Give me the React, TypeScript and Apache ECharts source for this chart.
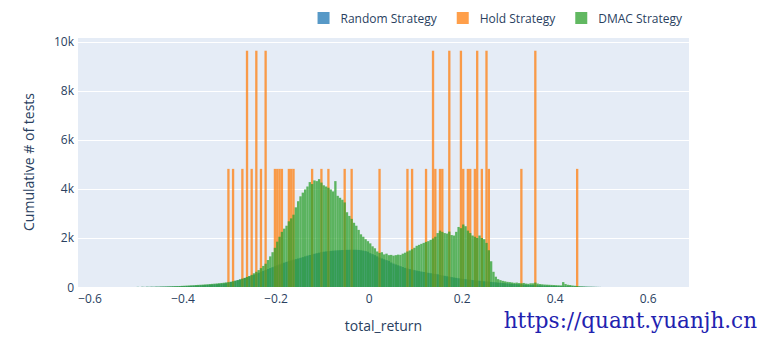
import React, { useEffect, useRef } from "react";
import * as echarts from "echarts";

// Histogram bins: start of first bin and bin width (total_return)
const BIN_START = -0.5;
const BIN_WIDTH = 0.005;

// Random Strategy counts per bin (200 bins from -0.5 to 0.5)
const randomCounts = [
  3, 0, 5, 2, 6, 4, 8, 6, 10, 9,
  12, 13, 15, 17, 19, 22, 24, 27, 30, 33,
  36, 40, 44, 48, 52, 57, 62, 67, 73, 79,
  86, 93, 100, 108, 116, 125, 134, 144, 155, 166,
  205, 228, 252, 278, 305, 335, 365, 398, 432, 466,
  500, 540, 578, 617, 656, 695, 734, 772, 810, 848,
  885, 922, 958, 992, 1025, 1055, 1085, 1112, 1138, 1163,
  1190, 1220, 1250, 1278, 1305, 1330, 1355, 1378, 1400, 1420,
  1440, 1452, 1463, 1473, 1482, 1490, 1497, 1503, 1508, 1512,
  1515, 1518, 1520, 1520, 1518, 1512, 1500, 1485, 1465, 1440,
  1380, 1340, 1300, 1250, 1200, 1165, 1130, 1095, 1065, 1000,
  955, 920, 885, 850, 815, 780, 755, 730, 708, 688,
  668, 648, 630, 612, 595, 578, 562, 547, 533, 520,
  490, 472, 455, 438, 421, 404, 388, 372, 357, 343,
  330, 318, 306, 295, 284, 273, 263, 253, 244, 235,
  226, 217, 208, 199, 190, 181, 172, 163, 155, 147,
  139, 131, 124, 117, 110, 104, 98, 92, 87, 82,
  77, 72, 68, 64, 60, 56, 52, 49, 46, 43,
  40, 37, 34, 31, 29, 27, 25, 23, 21, 19,
  17, 15, 13, 11, 9, 8, 6, 5, 3, 2,
];

// DMAC Strategy counts per bin (200 bins from -0.5 to 0.5)
const dmacCounts = [
  5, 0, 8, 3, 10, 6, 12, 9, 15, 14,
  18, 20, 22, 25, 28, 32, 35, 38, 42, 47,
  52, 58, 62, 68, 72, 80, 86, 92, 98, 106,
  112, 120, 128, 136, 145, 155, 165, 175, 188, 200,
  215, 235, 258, 282, 310, 340, 372, 410, 450, 495,
  560, 620, 690, 770, 860, 950, 1100, 1250, 1420, 1600,
  1850, 2050, 2250, 2380, 2500, 2680, 2800, 2950, 3250, 3500,
  3700, 3850, 3980, 4100, 4280, 4200, 4350, 4320, 4400, 4260,
  4150, 4100, 4050, 3980, 3900, 4320, 3720, 3640, 3560, 3450,
  3050, 2900, 2780, 2620, 2500, 2330, 2150, 2050, 1950, 1870,
  1780, 1660, 1580, 1450, 1390, 1420, 1330, 1360, 1300, 1310,
  1280, 1300, 1320, 1310, 1360, 1400, 1450, 1490, 1540, 1600,
  1680, 1720, 1760, 1800, 1840, 1870, 1920, 1980, 2050, 2200,
  2300, 2250, 2200, 2180, 2260, 2120, 2100, 2250, 2450, 2400,
  2550, 2480, 2300, 2200, 2100, 2050, 2000, 2100, 2000, 1950,
  1800, 1500, 1050, 620, 420, 320, 280, 250, 230, 210,
  200, 185, 170, 180, 160, 150, 165, 140, 130, 150,
  150, 180, 140, 120, 110, 100, 95, 90, 85, 80,
  75, 70, 65, 200, 120, 90, 80, 60, 50, 40,
  30, 25, 20, 15, 12, 10, 8, 5, 3, 2,
];

// Hold Strategy: bin starts and counts
const holdBins = [
  -0.305, -0.295, -0.275, -0.265, -0.255, -0.245, -0.235, -0.225,
  -0.205, -0.2, -0.195, -0.19, -0.175, -0.17, -0.165,
  -0.125, -0.105, -0.09, -0.055, -0.04,
  0.02, 0.08, 0.09, 0.12, 0.135, 0.14, 0.15, 0.155, 0.17,
  0.195, 0.2, 0.21, 0.215, 0.225, 0.23, 0.24, 0.25, 0.255,
  0.325, 0.355, 0.445,
];
const holdCounts = [
  4820, 4820, 4820, 9640, 4820, 9640, 4820, 9640,
  4820, 4820, 4820, 4820, 4820, 4820, 4820,
  4820, 4820, 4820, 4820, 4820,
  4820, 4820, 4820, 4820, 9640, 4820, 4820, 4820, 9640,
  9640, 4820, 4820, 4820, 4820, 9640, 4820, 9640, 4820,
  4820, 9640, 4820,
];

const xTicks = [-0.6, -0.4, -0.2, 0, 0.2, 0.4, 0.6];
const yTicks = [0, 2000, 4000, 6000, 8000, 10000];

const COLORS = {
  random: "#1f77b4",
  hold: "#ff7f0e",
  dmac: "#2ca02c",
};

const FONT = "'Open Sans', verdana, arial, sans-serif";
const TEXT_COLOR = "#2a3f5f";

function histSeries(name: string, color: string, data: number[][]) {
  return {
    name,
    type: "custom",
    clip: true,
    encode: { x: 0, y: 1 },
    itemStyle: { color, opacity: 0.75 },
    data,
    renderItem: (_params: any, api: any) => {
      const x0 = api.value(0);
      const v = api.value(1);
      const p0 = api.coord([x0, v]);
      const p1 = api.coord([x0 + BIN_WIDTH, 0]);
      return {
        type: "rect",
        shape: { x: p0[0], y: p0[1], width: p1[0] - p0[0], height: p1[1] - p0[1] },
        style: { fill: color, opacity: 0.75 },
      };
    },
  };
}

export default function App() {
  const ref = useRef<HTMLDivElement>(null);
  useEffect(() => {
    if (!ref.current) return;
    const chart = echarts.init(ref.current, undefined, { renderer: "svg" });
    const randomData = randomCounts.map((c, i) => [BIN_START + i * BIN_WIDTH, c]);
    const dmacData = dmacCounts.map((c, i) => [BIN_START + i * BIN_WIDTH, c]);
    const holdData = holdBins.map((b, i) => [b, holdCounts[i]]);
    const fmtX = (v: number) => {
      const s = Math.abs(v) < 1e-9 ? "0" : String(Math.round(v * 10) / 10);
      return s.replace("-", "\u2212");
    };
    chart.setOption({
      animation: false,
      backgroundColor: "#ffffff",
      textStyle: { fontFamily: FONT },
      legend: {
        right: 82,
        top: 7,
        orient: "horizontal",
        icon: "rect",
        itemWidth: 12,
        itemHeight: 12,
        itemGap: 20,
        textStyle: { color: TEXT_COLOR, fontSize: 12, fontFamily: FONT, padding: [0, 0, 0, 6] },
        data: [
          { name: "Random Strategy", itemStyle: { color: COLORS.random, opacity: 0.75 } },
          { name: "Hold Strategy", itemStyle: { color: COLORS.hold, opacity: 0.75 } },
          { name: "DMAC Strategy", itemStyle: { color: COLORS.dmac, opacity: 0.75 } },
        ],
      },
      grid: {
        left: 78,
        right: 80,
        top: 37,
        bottom: 53,
        show: true,
        backgroundColor: "#E5ECF6",
        borderWidth: 0,
      },
      xAxis: {
        type: "value",
        min: -0.626,
        max: 0.688,
        name: "total_return",
        nameLocation: "middle",
        nameGap: 31,
        nameTextStyle: { color: TEXT_COLOR, fontSize: 14, fontFamily: FONT },
        axisLine: { show: false },
        axisTick: { show: false },
        splitLine: { show: false },
        axisLabel: {
          customValues: xTicks,
          color: TEXT_COLOR,
          fontSize: 12,
          fontFamily: FONT,
          margin: 5,
          formatter: fmtX,
        },
      },
      yAxis: {
        type: "value",
        min: 0,
        max: 10200,
        interval: 2000,
        name: "Cumulative # of tests",
        nameLocation: "middle",
        nameGap: 43,
        nameTextStyle: { color: TEXT_COLOR, fontSize: 14, fontFamily: FONT },
        axisLine: { show: false },
        axisTick: { show: false },
        splitLine: { show: true, lineStyle: { color: "#ffffff", width: 1 } },
        axisLabel: {
          customValues: yTicks,
          color: TEXT_COLOR,
          fontSize: 12,
          fontFamily: FONT,
          margin: 4,
          formatter: (v: number) => (v === 0 ? "0" : v / 1000 + "k"),
        },
      },
      graphic: [
        {
          type: "text",
          right: 12,
          top: 309,
          style: {
            text: "https://quant.yuanjh.cn",
            fill: "#2222b0",
            font: "21.5px 'DejaVu Serif', serif",
            lineHeight: 22,
          },
        },
      ],
      series: [
        histSeries("Random Strategy", COLORS.random, randomData),
        histSeries("Hold Strategy", COLORS.hold, holdData),
        histSeries("DMAC Strategy", COLORS.dmac, dmacData),
      ],
    });
    return () => chart.dispose();
  }, []);
  return (
    <div
      ref={ref}
      style={{ position: "fixed", left: 0, top: 0, width: 769, height: 340 }}
    />
  );
}
